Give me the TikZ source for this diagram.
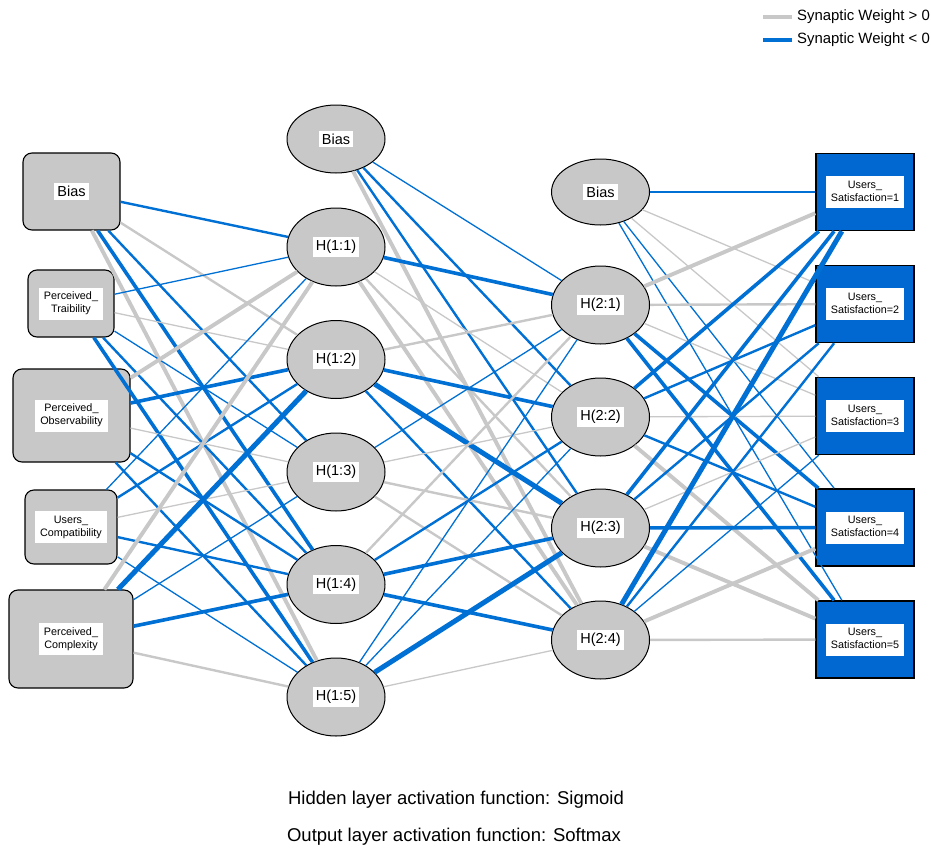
\documentclass[tikz,border=0pt]{standalone}
\usepackage{fontspec}
\setmainfont{Liberation Sans}
\usetikzlibrary{shapes.geometric}
\definecolor{wblue}{RGB}{0,112,212}
\definecolor{wgray}{RGB}{200,200,200}
\definecolor{nodegray}{RGB}{200,200,200}
\definecolor{outblue}{RGB}{0,104,208}
\setlength{\fboxsep}{3pt}
\newcommand{\wbox}[1]{\colorbox{white}{#1}}
\newcommand{\wboxii}[2]{\colorbox{white}{\begin{tabular}{@{\hspace{2pt}}c@{\hspace{2pt}}}#1\\#2\end{tabular}}}
\begin{document}
\begin{tikzpicture}[x=1pt,y=-1pt,
  inbox/.style={draw=black, line width=1.1pt, fill=nodegray, rounded corners=9pt, inner sep=0pt, font=\fontsize{10.8}{13}\selectfont},
  hid/.style={ellipse, draw=black, line width=1pt, fill=nodegray, inner sep=0pt, minimum width=98pt, minimum height=78pt, font=\fontsize{14.5}{17}\selectfont},
  outbox/.style={draw=black, line width=1.5pt, fill=outblue, inner sep=0pt, minimum width=98pt, minimum height=77pt, font=\fontsize{10.8}{13}\selectfont},
  g1/.style={draw=wgray, line width=1.3pt},
  g2/.style={draw=wgray, line width=2.4pt},
  g3/.style={draw=wgray, line width=3.9pt},
  b1/.style={draw=wblue, line width=1.3pt},
  b2/.style={draw=wblue, line width=2.4pt},
  b3/.style={draw=wblue, line width=3.6pt},
  b4/.style={draw=wblue, line width=5pt},
  txt/.style={font=\fontsize{18.5}{22}\selectfont, inner sep=0pt},
  legtxt/.style={font=\fontsize{14.9}{17}\selectfont, inner sep=0pt, anchor=west}
]
\useasboundingbox (0,0) rectangle (931,851);

% input layer
\node[inbox, minimum width=97pt, minimum height=77pt, font=\fontsize{14.5}{17}\selectfont] (i0) at (71.5,191.5) {\wbox{Bias}};
\node[inbox, minimum width=86pt, minimum height=67pt] (i1) at (71,303.5) {\wboxii{Perceived\_}{Traibility}};
\node[inbox, minimum width=117pt, minimum height=93pt] (i2) at (71.5,415.5) {\wboxii{Perceived\_}{Observability}};
\node[inbox, minimum width=92pt, minimum height=74pt] (i3) at (71,527) {\wboxii{Users\_}{Compatibility}};
\node[inbox, minimum width=124pt, minimum height=98pt] (i4) at (71,639) {\wboxii{Perceived\_}{Complexity}};

% hidden layer 1
\node[hid, minimum height=68pt] (hb1) at (336,139) {\wbox{Bias}};
\node[hid] (h11) at (336,247) {\wbox{H(1:1)}};
\node[hid] (h12) at (336,359.5) {\wbox{H(1:2)}};
\node[hid] (h13) at (336,472) {\wbox{H(1:3)}};
\node[hid] (h14) at (336,584.5) {\wbox{H(1:4)}};
\node[hid] (h15) at (336,697) {\wbox{H(1:5)}};

% hidden layer 2
\node[hid, minimum height=66pt] (hb2) at (600.5,192) {\wbox{Bias}};
\node[hid] (h21) at (600.5,305) {\wbox{H(2:1)}};
\node[hid] (h22) at (600.5,417) {\wbox{H(2:2)}};
\node[hid] (h23) at (600.5,528) {\wbox{H(2:3)}};
\node[hid] (h24) at (600.5,640) {\wbox{H(2:4)}};

% output layer
\node[outbox] (o1) at (865,192) {\wboxii{Users\_}{Satisfaction=1}};
\node[outbox] (o2) at (865,304) {\wboxii{Users\_}{Satisfaction=2}};
\node[outbox] (o3) at (865,416) {\wboxii{Users\_}{Satisfaction=3}};
\node[outbox] (o4) at (865,527.5) {\wboxii{Users\_}{Satisfaction=4}};
\node[outbox] (o5) at (865,639.5) {\wboxii{Users\_}{Satisfaction=5}};

% input -> hidden 1
\foreach \a/\b/\s in {
  i0/h11/b2, i0/h12/g2, i0/h13/b2, i0/h14/b3, i0/h15/g3,
  i1/h11/b1, i1/h12/g1, i1/h13/b1, i1/h14/b2, i1/h15/b3,
  i2/h11/g3, i2/h12/b3, i2/h13/g1, i2/h14/b2, i2/h15/b2,
  i3/h11/b1, i3/h12/b2, i3/h13/g1, i3/h14/b2, i3/h15/b1,
  i4/h11/g3, i4/h12/b4, i4/h13/b1, i4/h14/b3, i4/h15/g2}
  \draw[\s] (\a) -- (\b);

% hidden 1 -> hidden 2
\foreach \a/\b/\s in {
  hb1/h21/b1, hb1/h22/b2, hb1/h23/b2, hb1/h24/g3,
  h11/h21/b3, h11/h22/g1, h11/h23/g2, h11/h24/g3,
  h12/h21/g2, h12/h22/b3, h12/h23/b4, h12/h24/b2,
  h13/h21/b1, h13/h22/g1, h13/h23/g2, h13/h24/g2,
  h14/h21/g2, h14/h22/b2, h14/h23/b3, h14/h24/b3,
  h15/h21/b1, h15/h22/b1, h15/h23/b4, h15/h24/g1}
  \draw[\s] (\a) -- (\b);

% hidden 2 -> output
\foreach \a/\b/\s in {
  hb2/o1/b1, hb2/o2/g1, hb2/o3/g1, hb2/o4/b1, hb2/o5/b1,
  h21/o1/g3, h21/o2/g2, h21/o3/g1, h21/o4/b3, h21/o5/b3,
  h22/o1/b3, h22/o2/b2, h22/o3/g1, h22/o4/b2, h22/o5/g3,
  h23/o1/b3, h23/o2/b2, h23/o3/g1, h23/o4/b3, h23/o5/g3,
  h24/o1/b4, h24/o2/b2, h24/o3/b1, h24/o4/g3, h24/o5/g2}
  \draw[\s] (\a) -- (\b);

% legend
\coordinate (lga) at (763,17);
\coordinate (lgb) at (792,17);
\coordinate (lba) at (763,40);
\coordinate (lbb) at (792,40);
\draw[draw=wgray, line width=4pt] (lga) -- (lgb);
\draw[draw=wblue, line width=4pt] (lba) -- (lbb);
\node[legtxt] (leg1) at (797,17) {Synaptic Weight > 0};
\node[legtxt] (leg2) at (797,40) {Synaptic Weight < 0};

% captions
\node[txt] (cap1) at (456,800) {Hidden layer activation function: Sigmoid};
\node[txt] (cap2) at (454,837) {Output layer activation function: Softmax};
\end{tikzpicture}
\end{document}
